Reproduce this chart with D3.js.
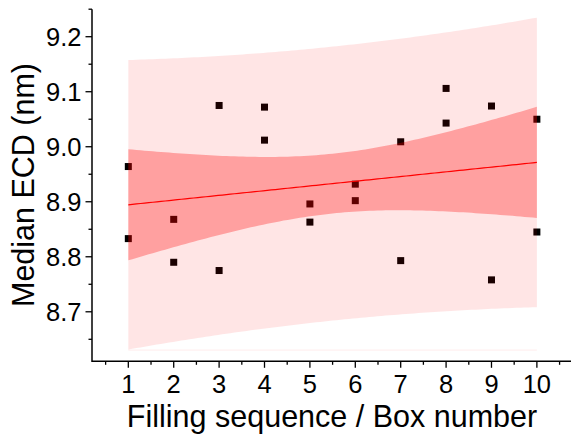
<!DOCTYPE html>
<html>
<head>
<meta charset="utf-8">
<script src="https://cdn.jsdelivr.net/npm/d3@7"></script>
<style>
  html, body { margin: 0; padding: 0; background: #fff; }
  svg { display: block; }
  text { font-family: "Liberation Sans", Arial, sans-serif; fill: #000; }
</style>
</head>
<body>
<svg id="chart" width="571" height="436"></svg>
<script>
// ---- data ----
const boxNumbers = [1, 1, 2, 2, 3, 3, 4, 4, 5, 5, 6, 6, 7, 7, 8, 8, 9, 9, 10, 10];
const medianECD = [8.964, 8.833, 8.868, 8.790, 9.075, 8.775, 9.072, 9.012, 8.896, 8.863,
                   8.932, 8.902, 9.009, 8.793, 9.106, 9.043, 9.074, 8.758, 9.050, 8.845];
const xTickValues = [1, 2, 3, 4, 5, 6, 7, 8, 9, 10];
const yTickValues = [8.7, 8.8, 8.9, 9.0, 9.1, 9.2];
const xMinorTicks = [0.5, 1.5, 2.5, 3.5, 4.5, 5.5, 6.5, 7.5, 8.5, 9.5, 10.5];
const yMinorTicks = [8.65, 8.75, 8.85, 8.95, 9.05, 9.15, 9.25];
const xTitle = "Filling sequence / Box number";
const yTitle = "Median ECD (nm)";
const tCrit = 2.10092; // Student t, 95 %, df = 18

// ---- linear regression with confidence / prediction bands ----
const n = boxNumbers.length;
const mx = d3.mean(boxNumbers), my = d3.mean(medianECD);
let sxx = 0, sxy = 0;
for (let i = 0; i < n; i++) {
  sxx += (boxNumbers[i] - mx) ** 2;
  sxy += (boxNumbers[i] - mx) * (medianECD[i] - my);
}
const slope = sxy / sxx, intercept = my - slope * mx;
let sse = 0;
for (let i = 0; i < n; i++) sse += (medianECD[i] - (intercept + slope * boxNumbers[i])) ** 2;
const s = Math.sqrt(sse / (n - 2));
const x0 = d3.min(boxNumbers), x1 = d3.max(boxNumbers);
const grid = d3.range(0, 101).map(k => x0 + (x1 - x0) * k / 100);
const fit = grid.map(x => {
  const yh = intercept + slope * x;
  const h = (x - mx) ** 2 / sxx;
  const ce = tCrit * s * Math.sqrt(1 / n + h);
  const pe = tCrit * s * Math.sqrt(1 + 1 / n + h);
  return { x, yh, cl: yh - ce, cu: yh + ce, pl: yh - pe, pu: yh + pe };
});

// ---- scales ----
const svg = d3.select("#chart");
const xScale = d3.scaleLinear().domain([0.2, 10.8]).range([92, 573.2]);
const yScale = d3.scaleLinear().domain([8.61, 9.25]).range([361.3, 9.2]);

// points (drawn below the translucent bands)
svg.append("g").selectAll("rect").data(boxNumbers).join("rect")
  .attr("x", (d) => xScale(d) - 3.5)
  .attr("y", (d, i) => yScale(medianECD[i]) - 3.5)
  .attr("width", 7).attr("height", 7)
  .attr("fill", "#000");

// prediction band
svg.append("path").datum(fit)
  .attr("d", d3.area().x(d => xScale(d.x)).y0(d => yScale(d.pl)).y1(d => yScale(d.pu)))
  .attr("fill", "#ff0000").attr("fill-opacity", 0.1);
// faint baseline at the lowest point of the prediction band
const pmin = d3.min(fit, d => d.pl);
svg.append("line")
  .attr("x1", xScale(x0)).attr("x2", xScale(x1))
  .attr("y1", yScale(pmin) + 0.5).attr("y2", yScale(pmin) + 0.5)
  .attr("stroke", "#ff0000").attr("stroke-opacity", 0.08).attr("stroke-width", 1);

// confidence band
svg.append("path").datum(fit)
  .attr("d", d3.area().x(d => xScale(d.x)).y0(d => yScale(d.cl)).y1(d => yScale(d.cu)))
  .attr("fill", "#ff0000").attr("fill-opacity", 0.3);

// fit line
svg.append("path").datum(fit)
  .attr("d", d3.line().x(d => xScale(d.x)).y(d => yScale(d.yh)))
  .attr("fill", "none").attr("stroke", "#ff0000").attr("stroke-width", 1.2);

// ---- axes ----
const axisColor = "#000";
const xAxisY = yScale.range()[0];
const yAxisX = xScale.range()[0];

// x axis
const gx = svg.append("g");
gx.append("line").attr("x1", yAxisX).attr("x2", 571).attr("y1", xAxisY).attr("y2", xAxisY)
  .attr("stroke", axisColor).attr("stroke-width", 1.5);
gx.selectAll("line.maj").data(xTickValues).join("line").attr("class", "maj")
  .attr("x1", d => xScale(d)).attr("x2", d => xScale(d))
  .attr("y1", xAxisY).attr("y2", xAxisY + 6.5)
  .attr("stroke", axisColor).attr("stroke-width", 1.3);
gx.selectAll("line.min").data(xMinorTicks).join("line").attr("class", "min")
  .attr("x1", d => xScale(d)).attr("x2", d => xScale(d))
  .attr("y1", xAxisY).attr("y2", xAxisY + 3.5)
  .attr("stroke", axisColor).attr("stroke-width", 1.3);
gx.selectAll("text").data(xTickValues).join("text")
  .attr("x", d => xScale(d)).attr("y", 392.5)
  .attr("text-anchor", "middle").attr("font-size", 25.5)
  .text(d => d3.format("d")(d));

// y axis
const gy = svg.append("g");
gy.append("line").attr("x1", yAxisX).attr("x2", yAxisX).attr("y1", yScale.range()[1]).attr("y2", xAxisY + 0.75)
  .attr("stroke", axisColor).attr("stroke-width", 1.5);
gy.selectAll("line.maj").data(yTickValues).join("line").attr("class", "maj")
  .attr("x1", yAxisX - 6.5).attr("x2", yAxisX)
  .attr("y1", d => yScale(d)).attr("y2", d => yScale(d))
  .attr("stroke", axisColor).attr("stroke-width", 1.3);
gy.selectAll("line.min").data(yMinorTicks).join("line").attr("class", "min")
  .attr("x1", yAxisX - 3.5).attr("x2", yAxisX)
  .attr("y1", d => yScale(d)).attr("y2", d => yScale(d))
  .attr("stroke", axisColor).attr("stroke-width", 1.3);
gy.selectAll("text").data(yTickValues).join("text")
  .attr("x", 81.5).attr("y", d => yScale(d)).attr("dy", "0.36em")
  .attr("text-anchor", "end").attr("font-size", 25.5)
  .text(d => d3.format(".1f")(d));

// titles
svg.append("text").attr("x", 332).attr("y", 426.5)
  .attr("text-anchor", "middle").attr("font-size", 30.5).text(xTitle);
svg.append("text").attr("transform", "translate(34,185) rotate(-90)")
  .attr("text-anchor", "middle").attr("font-size", 30.5).text(yTitle);
</script>
</body>
</html>
